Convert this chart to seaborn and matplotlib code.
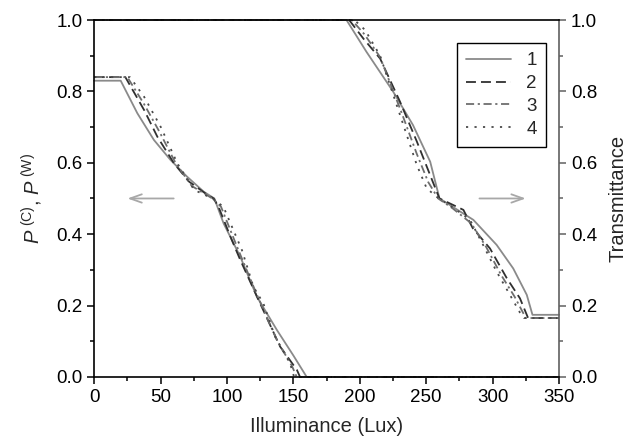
import matplotlib
matplotlib.use("Agg")
import matplotlib.pyplot as plt
import pandas as pd
import seaborn as sns
from matplotlib.ticker import MultipleLocator

# curve labels
curves = ["1", "2", "3", "4"]

# P curves (left axis), illuminance in Lux
p1_x = [0, 20, 32.5, 45, 57.5, 70, 82.5, 90.5, 97.5, 110, 122.5, 137.5, 150, 160, 350]
p1_y = [0.83, 0.83, 0.739, 0.664, 0.608, 0.561, 0.519, 0.50, 0.43, 0.337, 0.225, 0.132, 0.06, 0, 0]
p2_x = [0, 23.5, 37.6, 47.6, 60.2, 71.5, 85.3, 90, 93.6, 103.6, 110, 123.7, 140, 152.6, 155, 350]
p2_y = [0.84, 0.84, 0.748, 0.673, 0.598, 0.547, 0.51, 0.50, 0.477, 0.384, 0.328, 0.216, 0.085, 0.02, 0, 0]
p3_x = [0, 25, 37.5, 49, 61.5, 73.5, 89, 95.5, 107, 122, 138, 149, 152.5, 350]
p3_y = [0.84, 0.84, 0.765, 0.688, 0.598, 0.535, 0.50, 0.477, 0.37, 0.235, 0.10, 0.03, 0, 0]
p4_x = [0, 27, 37.6, 50.2, 62.7, 75.3, 89, 97.3, 111.2, 119.9, 127.4, 136.2, 147.5, 150.5, 350]
p4_y = [0.84, 0.84, 0.785, 0.70, 0.598, 0.524, 0.50, 0.477, 0.356, 0.253, 0.206, 0.113, 0.038, 0, 0]

# transmittance curves (right axis)
t1_x = [0, 190, 205, 225, 240, 253, 260, 285.5, 303, 315.5, 325.7, 330, 350]
t1_y = [1, 1, 0.911, 0.80, 0.706, 0.603, 0.50, 0.44, 0.37, 0.304, 0.23, 0.174, 0.174]
t2_x = [0, 192, 202.7, 215.3, 230.3, 242.9, 252.9, 257.9, 260, 278, 285, 298, 310.6, 320.6, 326.7, 350]
t2_y = [1, 1, 0.948, 0.892, 0.771, 0.66, 0.566, 0.519, 0.50, 0.468, 0.417, 0.36, 0.277, 0.22, 0.165, 0.165]
t3_x = [0, 194, 203.5, 215.3, 231.5, 242.9, 251.5, 259, 270, 284, 295, 306.5, 316.5, 325, 350]
t3_y = [1, 1, 0.96, 0.896, 0.74, 0.625, 0.546, 0.50, 0.472, 0.43, 0.365, 0.285, 0.225, 0.165, 0.165]
t4_x = [0, 196, 204, 215.3, 232.8, 242.9, 250.4, 259.5, 270, 283, 292.8, 303, 313, 320.6, 323.5, 350]
t4_y = [1, 1, 0.972, 0.90, 0.706, 0.594, 0.528, 0.50, 0.475, 0.44, 0.37, 0.295, 0.23, 0.18, 0.165, 0.165]

p_x = [p1_x, p2_x, p3_x, p4_x]
p_y = [p1_y, p2_y, p3_y, p4_y]
t_x = [t1_x, t2_x, t3_x, t4_x]
t_y = [t1_y, t2_y, t3_y, t4_y]

rows = []
for i, c in enumerate(curves):
    for x, y in zip(p_x[i], p_y[i]):
        rows.append({"lux": x, "val": y, "curve": c, "branch": c + "P"})
    for x, y in zip(t_x[i], t_y[i]):
        rows.append({"lux": x, "val": y, "curve": c, "branch": c + "T"})
df = pd.DataFrame(rows)

sns.set_theme(style="ticks")
plt.rcParams["font.family"] = ["Liberation Sans", "DejaVu Sans"]
plt.rcParams["mathtext.fontset"] = "custom"
plt.rcParams["mathtext.rm"] = "Liberation Sans"
plt.rcParams["mathtext.it"] = "Liberation Sans:italic"

colors = {"1": "#8a8a8a", "2": "#303030", "3": "#6e6e6e", "4": "#4a4a4a"}
dashes = {"1": "", "2": (5.5, 2.8), "3": (4.5, 2, 1.2, 2), "4": (1.2, 3.5)}

fig = plt.figure(figsize=(6.36, 4.45), dpi=100)
ax = fig.add_axes([0.148, 0.153, 0.731, 0.802])

sns.lineplot(data=df, x="lux", y="val", hue="curve", style="curve",
             units="branch", estimator=None, sort=False,
             palette=colors, dashes=dashes, linewidth=1.3, ax=ax)
for ln in ax.lines:
    ln.set_clip_on(False)

ax.set_xlim(0, 350)
ax.set_ylim(0, 1)
ax.xaxis.set_major_locator(MultipleLocator(50))
ax.xaxis.set_minor_locator(MultipleLocator(25))
ax.yaxis.set_major_locator(MultipleLocator(0.2))
ax.yaxis.set_minor_locator(MultipleLocator(0.1))
ax.yaxis.set_major_formatter(matplotlib.ticker.FormatStrFormatter("%.1f"))
ax.tick_params(which="major", direction="out", length=5, width=1.1,
               labelsize=13.5, color="black", labelcolor="black")
ax.tick_params(which="minor", direction="out", length=3, width=1.1, color="black")
for s in ax.spines.values():
    s.set_linewidth(1.2)
    s.set_color("black")
ax.spines["right"].set_color("#606060")

ax.set_xlabel("Illuminance (Lux)", fontsize=14.5, labelpad=8)
ax.set_ylabel(r"$P^{\;(\mathrm{C})}$, $P^{\;(\mathrm{W})}$", fontsize=14.5, labelpad=8)

ax2 = ax.twinx()
ax2.set_ylim(0, 1)
ax2.yaxis.set_major_locator(MultipleLocator(0.2))
ax2.yaxis.set_minor_locator(MultipleLocator(0.1))
ax2.yaxis.set_major_formatter(matplotlib.ticker.FormatStrFormatter("%.1f"))
ax2.tick_params(which="major", direction="out", length=5, width=1.1,
                labelsize=13.5, color="#606060", labelcolor="black")
ax2.tick_params(which="minor", direction="out", length=3, width=1.1, color="#606060")
for s in ax2.spines.values():
    s.set_visible(False)
ax2.set_ylabel("Transmittance", fontsize=14.5, labelpad=8)

# direction arrows
arrow = dict(arrowstyle="->,head_length=0.7,head_width=0.25", color="#a8a8a8", lw=1.3)
ax.annotate("", xy=(23, 0.5), xytext=(62, 0.5), arrowprops=arrow)
ax.annotate("", xy=(327, 0.5), xytext=(288, 0.5), arrowprops=arrow)

sns.move_legend(ax, "upper right", bbox_to_anchor=(0.972, 0.936), title=None,
                frameon=True, fancybox=False, framealpha=1, edgecolor="black",
                fontsize=13.5, handlelength=2.4, labelspacing=0.3,
                borderaxespad=0, borderpad=0.5, handletextpad=0.8)
ax.get_legend().get_frame().set_linewidth(1.0)
ax.set_zorder(ax2.get_zorder() + 1)
ax.patch.set_visible(False)

fig.savefig("out.png", dpi=100)
